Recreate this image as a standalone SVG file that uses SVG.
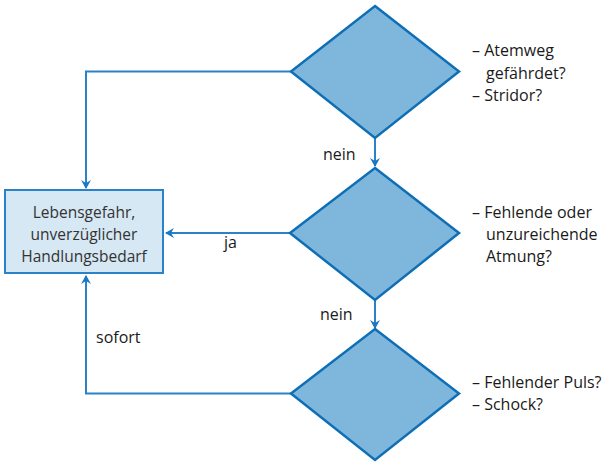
<svg xmlns="http://www.w3.org/2000/svg" width="614" height="463" viewBox="0 0 614 463">
<style>
.d{fill:#7fb7dc;stroke:#0f6fb6;stroke-width:2.5;stroke-linejoin:miter}
.c{fill:none;stroke:#2a82c8;stroke-width:2}
.t{font-family:"Open Sans","Noto Sans",sans-serif;fill:#1a1a1a;font-size:16px}
.bt{font-family:"Open Sans","Noto Sans",sans-serif;fill:#333;font-size:15.5px;text-anchor:middle}
.l{font-family:"Open Sans","Noto Sans",sans-serif;fill:#1a1a1a;font-size:16px}
</style>
<defs>
<marker id="a" markerWidth="10" markerHeight="10" refX="8" refY="5" orient="auto" markerUnits="userSpaceOnUse">
<path d="M0,0 L9,5 L0,10 L3,5 Z" fill="#1a78c2"/>
</marker>
</defs>
<rect width="614" height="463" fill="#fff"/>
<g id="connectors">
<polyline class="c" points="291,71.5 86,71.5 86,188" marker-end="url(#a)"/>
<line class="c" x1="290" y1="233" x2="166" y2="233" marker-end="url(#a)"/>
<polyline class="c" points="291,393.5 86,393.5 86,276" marker-end="url(#a)"/>
<line class="c" x1="375" y1="138" x2="375" y2="166" marker-end="url(#a)"/>
<line class="c" x1="375" y1="300" x2="375" y2="328" marker-end="url(#a)"/>
<text class="l" x="323" y="160">nein</text>
<text class="l" x="224" y="248">ja</text>
<text class="l" x="320" y="320">nein</text>
<text class="l" x="96" y="343">sofort</text>
</g>
<g id="box">
<rect x="5" y="190" width="158" height="83" fill="#d6e8f4" stroke="#2a82c8" stroke-width="2"/>
<text class="bt" x="84" y="218">Lebensgefahr,</text>
<text class="bt" x="84" y="240">unverzüglicher</text>
<text class="bt" x="84" y="262">Handlungsbedarf</text>
</g>
<g id="d1">
<polygon class="d" points="375,6 459,71.5 375,138 291,71.5"/>
<text class="t" x="472" y="56">– Atemweg</text>
<text class="t" x="486" y="79">gefährdet?</text>
<text class="t" x="472" y="101">– Stridor?</text>
</g>
<g id="d2">
<polygon class="d" points="375,168 459,233 375,300 290,233"/>
<text class="t" x="472" y="218">– Fehlende oder</text>
<text class="t" x="486" y="240">unzureichende</text>
<text class="t" x="486" y="262">Atmung?</text>
</g>
<g id="d3">
<polygon class="d" points="375,329 459,393.5 375,460 291,393.5"/>
<text class="t" x="472" y="388">– Fehlender Puls?</text>
<text class="t" x="472" y="410">– Schock?</text>
</g>
</svg>
